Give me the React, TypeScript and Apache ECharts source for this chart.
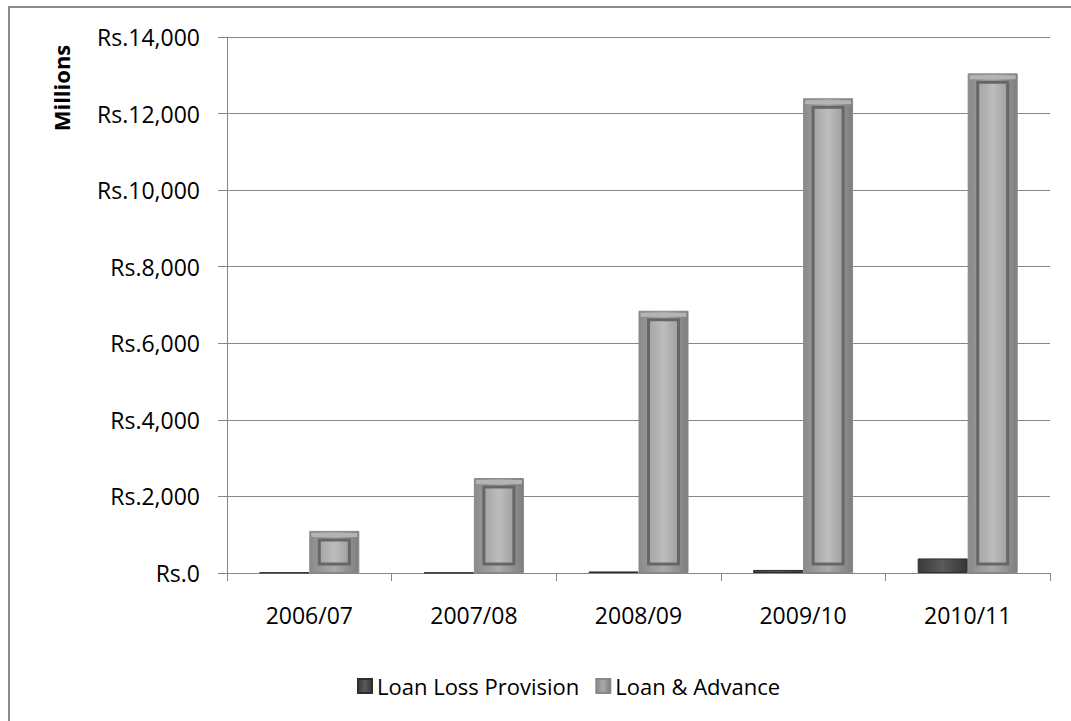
import React, { useEffect, useRef } from "react";
import * as echarts from "echarts";

const categories = ["2006/07", "2007/08", "2008/09", "2009/10", "2010/11"];
const loanLossProvision = [12, 8, 40, 80, 380];
const loanAdvance = [1100, 2480, 6850, 12400, 13050];
const yTicks = [0, 2000, 4000, 6000, 8000, 10000, 12000, 14000];

const FONT = "Open Sans";

function fmt(v: number) {
  return "Rs." + v.toLocaleString("en-US");
}

export default function App() {
  const ref = useRef<HTMLDivElement>(null);
  useEffect(() => {
    document.body.style.margin = "0";
    const chart = echarts.init(ref.current!, null, { renderer: "svg" });
    const BAR_W = 50;
    const outerGrad = new echarts.graphic.LinearGradient(0, 0, 1, 0, [
      { offset: 0, color: "#8a8a8a" },
      { offset: 0.5, color: "#a9a9a9" },
      { offset: 1, color: "#7e7e7e" },
    ]);
    const darkGrad = new echarts.graphic.LinearGradient(0, 0, 1, 0, [
      { offset: 0, color: "#3a3a3a" },
      { offset: 0.5, color: "#5a5a5a" },
      { offset: 1, color: "#353535" },
    ]);
    chart.setOption({
      animation: false,
      backgroundColor: "#ffffff",
      textStyle: { fontFamily: FONT },
      grid: { left: 227, right: 21, top: 37, bottom: 148, containLabel: false },
      legend: {
        data: ["Loan Loss Provision", "Loan & Advance"],
        left: 352,
        top: 670,
        itemWidth: 14,
        itemHeight: 14,
        itemGap: 16,
        icon: "rect",
        textStyle: { fontFamily: FONT, fontSize: 22, color: "#000" },
      },
      graphic: [
        {
          type: "polyline",
          shape: { points: [[9, 730], [9, 7], [1080, 7]] },
          style: { stroke: "#8c8c8c", lineWidth: 2, fill: "none" },
          silent: true,
        },
        {
          type: "text",
          x: 61,
          y: 88,
          rotation: Math.PI / 2,
          style: {
            text: "Millions",
            fontFamily: FONT,
            fontWeight: "bold",
            fontSize: 22,
            fill: "#000",
            align: "center",
            verticalAlign: "middle",
          },
        },
      ],
      xAxis: {
        type: "category",
        data: categories,
        axisLine: { lineStyle: { color: "#868686", width: 1 } },
        axisTick: { show: true, length: 8, lineStyle: { color: "#868686" } },
        axisLabel: { color: "#000", fontSize: 23, fontFamily: FONT, margin: 30 },
      },
      yAxis: {
        type: "value",
        min: 0,
        max: 14000,
        interval: 2000,
        axisLine: { show: true, lineStyle: { color: "#868686", width: 1 } },
        axisTick: { show: true, length: 9, lineStyle: { color: "#868686" } },
        splitLine: { lineStyle: { color: "#868686", width: 1 } },
        axisLabel: {
          color: "#000",
          fontSize: 23,
          fontFamily: FONT,
          margin: 27,
          formatter: (v: number) => (yTicks.includes(v) ? fmt(v) : ""),
        },
      },
      series: [
        {
          name: "Loan Loss Provision",
          type: "bar",
          data: loanLossProvision,
          barWidth: BAR_W,
          barGap: "0%",
          itemStyle: { color: darkGrad, borderColor: "#2e2e2e", borderWidth: 1 },
        },
        {
          name: "Loan & Advance",
          type: "bar",
          data: loanAdvance,
          barWidth: BAR_W,
          barGap: "0%",
          itemStyle: { color: outerGrad, borderColor: "#888888", borderWidth: 1 },
        },
        {
          name: "inner",
          type: "custom",
          data: loanAdvance.map((v, i) => [i, v]),
          z: 5,
          silent: true,
          renderItem: (params: any, api: any) => {
            const idx = api.value(0);
            const val = api.value(1);
            const top = api.coord([idx, val]);
            const base = api.coord([idx, 0]);
            const x0 = top[0];
            const inset = 10;
            const h = base[1] - top[1] - 2 * 9;
            if (h <= 0) return null;
            return {
              type: "group",
              children: [
                {
                  type: "rect",
                  shape: { x: x0 + 2, y: top[1] + 2, width: BAR_W - 4, height: 4 },
                  style: { fill: "#b4b4b4" },
                },
                {
                  type: "rect",
                  shape: { x: x0 + inset, y: top[1] + 9, width: BAR_W - 2 * inset, height: h },
                  style: {
                    fill: new echarts.graphic.LinearGradient(0, 0, 1, 0, [
                      { offset: 0, color: "#a4a4a4" },
                      { offset: 0.5, color: "#bdbdbd" },
                      { offset: 1, color: "#a0a0a0" },
                    ]),
                    stroke: "#666666",
                    lineWidth: 3,
                  },
                },
              ],
            };
          },
        },
      ],
    });
    return () => chart.dispose();
  }, []);
  return <div ref={ref} style={{ width: 1071, height: 721 }} />;
}
